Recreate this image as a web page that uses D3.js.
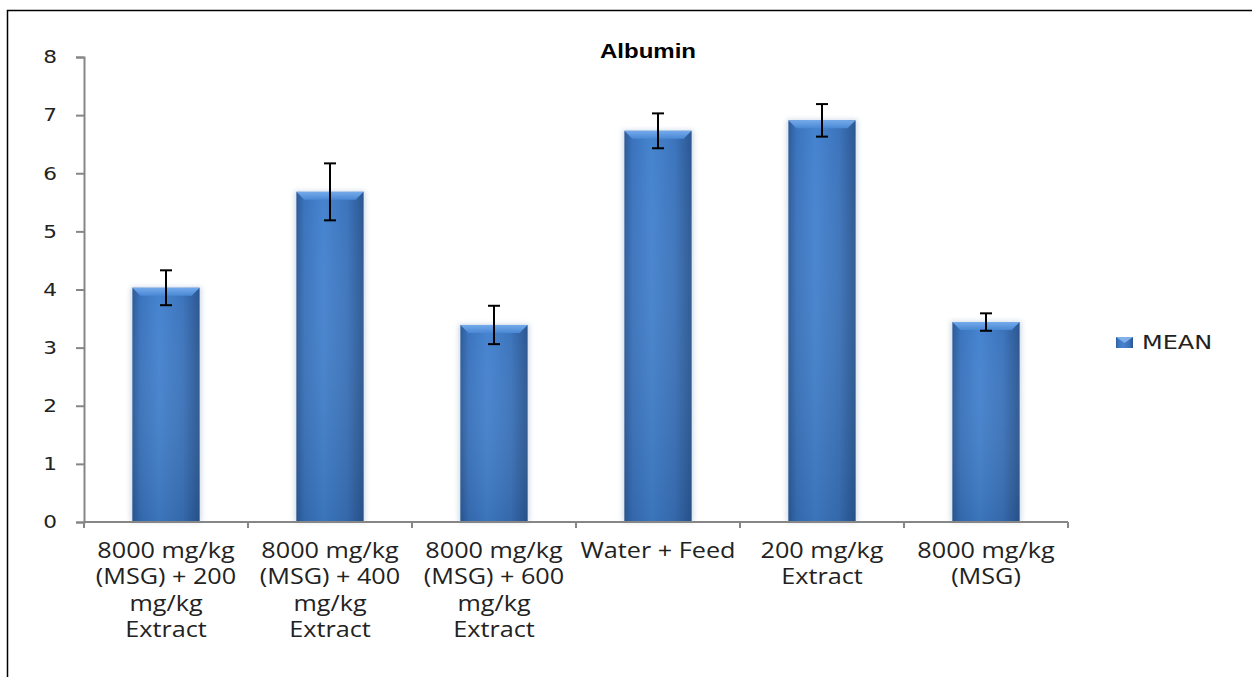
<!DOCTYPE html>
<html>
<head>
<meta charset="utf-8">
<script src="https://cdn.jsdelivr.net/npm/d3@7"></script>
<style>
  body { margin: 0; background: #fff; }
  svg { display: block; }
</style>
</head>
<body>
<div id="chart"></div>
<script>
// chart values
var categories = [
  ["8000 mg/kg", "(MSG) + 200", "mg/kg", "Extract"],
  ["8000 mg/kg", "(MSG) + 400", "mg/kg", "Extract"],
  ["8000 mg/kg", "(MSG) + 600", "mg/kg", "Extract"],
  ["Water + Feed"],
  ["200 mg/kg", "Extract"],
  ["8000 mg/kg", "(MSG)"]
];
var means = [4.03, 5.68, 3.39, 6.73, 6.91, 3.44];
var errors = [0.30, 0.49, 0.33, 0.30, 0.28, 0.15];
var yTicks = [0, 1, 2, 3, 4, 5, 6, 7, 8];
var title = "Albumin";
var legendLabel = "MEAN";

var W = 1252, H = 677;
var margin = { top: 57, left: 84, right: 184, bottom: 155 };
var w = W - margin.left - margin.right; // 984
var h = 522 - margin.top;
var sx = 1.2; // the original picture is stretched sideways, so is its text

var svg = d3.select("#chart").append("svg")
  .attr("width", W)
  .attr("height", H);

var defs = svg.append("defs");

// horizontal shading of the bars
var grad = defs.append("linearGradient")
  .attr("id", "barGrad")
  .attr("x1", "0%").attr("x2", "100%").attr("y1", "0%").attr("y2", "0%");
grad.append("stop").attr("offset", "0%").attr("stop-color", "#2c5a97");
grad.append("stop").attr("offset", "12%").attr("stop-color", "#3a73bd");
grad.append("stop").attr("offset", "40%").attr("stop-color", "#4583cf");
grad.append("stop").attr("offset", "75%").attr("stop-color", "#3c74bc");
grad.append("stop").attr("offset", "100%").attr("stop-color", "#2b5690");

var vgrad = defs.append("linearGradient")
  .attr("id", "barShade")
  .attr("x1", "0%").attr("x2", "0%").attr("y1", "0%").attr("y2", "100%");
vgrad.append("stop").attr("offset", "0%").attr("stop-color", "#ffffff").attr("stop-opacity", 0.0);
vgrad.append("stop").attr("offset", "100%").attr("stop-color", "#10305a").attr("stop-opacity", 0.18);

var topGrad = defs.append("linearGradient")
  .attr("id", "topGrad")
  .attr("x1", "0%").attr("x2", "0%").attr("y1", "0%").attr("y2", "100%");
topGrad.append("stop").attr("offset", "0%").attr("stop-color", "#74aaeb");
topGrad.append("stop").attr("offset", "100%").attr("stop-color", "#4a88d4");

var blur = defs.append("filter").attr("id", "soft")
  .attr("x", "-20%").attr("y", "-5%").attr("width", "140%").attr("height", "110%");
blur.append("feGaussianBlur").attr("stdDeviation", 2.5);

// outer frame
svg.append("rect")
  .attr("x", 7.5).attr("y", 10.5)
  .attr("width", W + 10).attr("height", H + 10)
  .attr("fill", "none")
  .attr("stroke", "#000")
  .attr("stroke-width", 1.5);

var g = svg.append("g")
  .attr("transform", "translate(" + margin.left + "," + margin.top + ")");

var x = d3.scaleBand()
  .domain(d3.range(categories.length))
  .range([0, w])
  .paddingInner(0.59)
  .paddingOuter(0.295);

var y = d3.scaleLinear()
  .domain([0, 8])
  .range([h, 0]);

// title
svg.append("text")
  .attr("transform", "translate(648,58) scale(" + sx + ",1)")
  .attr("text-anchor", "middle")
  .attr("font-family", "'Liberation Sans', Arial, sans-serif")
  .attr("font-weight", "bold")
  .attr("font-size", 20)
  .attr("fill", "#000")
  .text(title);

// bars
var bars = g.selectAll(".bar")
  .data(means)
  .enter().append("g")
  .attr("class", "bar");

bars.append("rect")
  .attr("x", function (d, i) { return x(i) - 2; })
  .attr("y", function (d) { return y(d) - 1; })
  .attr("width", x.bandwidth() + 4)
  .attr("height", function (d) { return h - y(d) + 1; })
  .attr("fill", "#9fb4cf")
  .attr("opacity", 0.45)
  .attr("filter", "url(#soft)");

bars.append("rect")
  .attr("x", function (d, i) { return x(i); })
  .attr("y", function (d) { return y(d); })
  .attr("width", x.bandwidth())
  .attr("height", function (d) { return h - y(d); })
  .attr("fill", "url(#barGrad)");

bars.append("rect")
  .attr("x", function (d, i) { return x(i); })
  .attr("y", function (d) { return y(d); })
  .attr("width", x.bandwidth())
  .attr("height", function (d) { return h - y(d); })
  .attr("fill", "url(#barShade)");

// top bevel
bars.append("path")
  .attr("d", function (d, i) {
    var x0 = x(i), x1 = x(i) + x.bandwidth(), yt = y(d), b = 8;
    return "M" + x0 + "," + yt + "L" + x1 + "," + yt +
      "L" + (x1 - b) + "," + (yt + b) + "L" + (x0 + b) + "," + (yt + b) + "Z";
  })
  .attr("fill", "url(#topGrad)");

// error bars
var eb = g.selectAll(".err")
  .data(means)
  .enter().append("g")
  .attr("class", "err")
  .attr("stroke", "#000")
  .attr("stroke-width", 2);

eb.append("line")
  .attr("x1", function (d, i) { return x(i) + x.bandwidth() / 2; })
  .attr("x2", function (d, i) { return x(i) + x.bandwidth() / 2; })
  .attr("y1", function (d, i) { return y(d + errors[i]); })
  .attr("y2", function (d, i) { return y(d - errors[i]); });

eb.append("line")
  .attr("x1", function (d, i) { return x(i) + x.bandwidth() / 2 - 6; })
  .attr("x2", function (d, i) { return x(i) + x.bandwidth() / 2 + 6; })
  .attr("y1", function (d, i) { return y(d + errors[i]); })
  .attr("y2", function (d, i) { return y(d + errors[i]); });

eb.append("line")
  .attr("x1", function (d, i) { return x(i) + x.bandwidth() / 2 - 6; })
  .attr("x2", function (d, i) { return x(i) + x.bandwidth() / 2 + 6; })
  .attr("y1", function (d, i) { return y(d - errors[i]); })
  .attr("y2", function (d, i) { return y(d - errors[i]); });

// y axis
var yAxis = g.append("g")
  .call(d3.axisLeft(y).tickValues(yTicks).tickSize(8).tickPadding(19).tickFormat(d3.format("d")));
yAxis.select(".domain").attr("stroke", "#868686").attr("stroke-width", 2);
yAxis.selectAll(".tick line").attr("stroke", "#868686").attr("stroke-width", 2);
yAxis.selectAll(".tick text")
  .attr("x", null)
  .attr("transform", "translate(-27,0) scale(" + sx + ",1)")
  .attr("font-family", "'DejaVu Sans', Verdana, sans-serif")
  .attr("font-size", 18)
  .attr("fill", "#222");

// x axis (ticks at category boundaries)
var xLine = g.append("g").attr("transform", "translate(0," + h + ")");
xLine.append("line")
  .attr("x1", 0).attr("x2", w)
  .attr("stroke", "#868686").attr("stroke-width", 2);
var step = x.step();
xLine.selectAll(".bt")
  .data(d3.range(categories.length + 1))
  .enter().append("line")
  .attr("x1", function (d) { return d * step; })
  .attr("x2", function (d) { return d * step; })
  .attr("y1", 0).attr("y2", 6)
  .attr("stroke", "#868686").attr("stroke-width", 2);

// category labels
var labels = xLine.selectAll(".cat")
  .data(categories)
  .enter().append("text")
  .attr("class", "cat")
  .attr("transform", function (d, i) {
    return "translate(" + (x(i) + x.bandwidth() / 2) + ",36) scale(" + sx + ",1)";
  })
  .attr("text-anchor", "middle")
  .attr("font-family", "'Open Sans', Lato, sans-serif")
  .attr("font-size", 21)
  .attr("fill", "#222");

labels.selectAll("tspan")
  .data(function (d) { return d; })
  .enter().append("tspan")
  .attr("x", 0)
  .attr("dy", function (d, j) { return j === 0 ? 0 : 26.5; })
  .text(function (d) { return d; });

// legend
var lg = svg.append("g").attr("transform", "translate(1116,337)");
lg.append("rect")
  .attr("width", 17).attr("height", 11)
  .attr("fill", "url(#barGrad)");
lg.append("path")
  .attr("d", "M0,0L17,0L8.5,6Z")
  .attr("fill", "#7fb0ea");
lg.append("text")
  .attr("transform", "translate(26,12) scale(" + sx + ",1)")
  .attr("font-family", "'DejaVu Sans', Verdana, sans-serif")
  .attr("font-size", 20)
  .attr("fill", "#222")
  .text(legendLabel);
</script>
</body>
</html>
